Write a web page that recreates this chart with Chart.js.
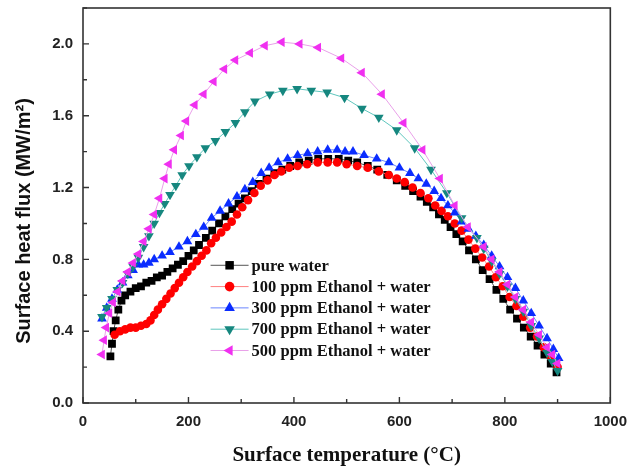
<!DOCTYPE html>
<html>
<head>
<meta charset="utf-8">
<script src="https://cdn.jsdelivr.net/npm/chart.js@4"></script>
<style>
  html, body { margin: 0; padding: 0; background: #fff; }
  #wrap { width: 637px; height: 468px; }
</style>
</head>
<body>
<div id="wrap"><canvas id="fluxChart" width="637" height="468"></canvas></div>
<script>
// series: [surface temperature (C), heat flux (MW/m2)]
const pureWater = [
  [52,0.26],[55,0.33],[58,0.40],[62,0.46],[67,0.52],[73,0.57],[80,0.60],[90,0.62],[100,0.64],[110,0.65],
  [120,0.67],[130,0.68],[140,0.70],[150,0.71],[160,0.73],[170,0.75],[180,0.77],[190,0.79],[200,0.82],[210,0.85],
  [220,0.88],[233,0.92],[245,0.96],[258,1.00],[270,1.04],[283,1.08],[295,1.11],[307,1.14],[320,1.18],[333,1.22],
  [348,1.25],[363,1.28],[378,1.30],[393,1.32],[410,1.34],[428,1.35],[446,1.36],[465,1.36],[485,1.36],[503,1.35],
  [520,1.34],[540,1.32],[558,1.30],[577,1.27],[595,1.24],[611,1.21],[626,1.18],[640,1.15],[652,1.12],[664,1.09],
  [675,1.05],[686,1.02],[697,0.98],[708,0.94],[720,0.90],[732,0.85],[745,0.80],[758,0.74],[771,0.69],[784,0.63],
  [797,0.58],[810,0.52],[823,0.47],[836,0.42],[849,0.37],[862,0.32],[875,0.27],[887,0.22],[898,0.17]
];
const ppm100 = [
  [60,0.38],[70,0.40],[80,0.41],[90,0.42],[100,0.42],[110,0.43],[120,0.44],[128,0.46],[135,0.49],[142,0.52],
  [150,0.55],[158,0.58],[166,0.61],[174,0.64],[182,0.67],[190,0.70],[198,0.73],[207,0.76],[216,0.79],[225,0.82],
  [234,0.85],[243,0.89],[252,0.92],[262,0.95],[272,0.98],[282,1.01],[292,1.05],[302,1.09],[313,1.13],[325,1.17],
  [337,1.21],[350,1.24],[363,1.27],[376,1.29],[391,1.31],[407,1.32],[425,1.33],[445,1.34],[464,1.34],[482,1.34],
  [500,1.33],[520,1.32],[540,1.31],[561,1.29],[580,1.27],[595,1.25],[610,1.23],[625,1.20],[640,1.17],[655,1.14],
  [668,1.10],[680,1.07],[692,1.04],[705,1.00],[718,0.96],[731,0.91],[744,0.86],[757,0.81],[770,0.76],[783,0.70],
  [796,0.65],[809,0.59],[822,0.54],[835,0.48],[848,0.42],[861,0.37],[874,0.31],[887,0.26],[900,0.20]
];
const ppm300 = [
  [36,0.47],[45,0.53],[55,0.58],[65,0.63],[75,0.67],[85,0.71],[95,0.74],[105,0.77],[115,0.77],[125,0.78],
  [135,0.80],[150,0.82],[165,0.84],[182,0.87],[198,0.90],[214,0.94],[229,0.98],[244,1.03],[260,1.07],[276,1.11],
  [292,1.15],[307,1.19],[322,1.23],[338,1.28],[353,1.31],[370,1.34],[388,1.36],[407,1.38],[426,1.39],[445,1.40],
  [464,1.41],[482,1.41],[497,1.40],[512,1.40],[533,1.38],[557,1.36],[580,1.34],[600,1.31],[620,1.28],[636,1.25],
  [651,1.22],[666,1.18],[679,1.14],[692,1.10],[705,1.06],[718,1.01],[731,0.97],[745,0.93],[760,0.88],[775,0.82],
  [790,0.76],[805,0.70],[820,0.64],[835,0.57],[850,0.50],[865,0.43],[880,0.36],[892,0.30],[902,0.25]
];
const ppm700 = [
  [36,0.48],[45,0.53],[55,0.58],[65,0.63],[75,0.67],[85,0.72],[95,0.76],[105,0.81],[115,0.87],[125,0.93],
  [135,1.00],[145,1.06],[155,1.11],[165,1.16],[176,1.21],[188,1.27],[201,1.32],[216,1.37],[232,1.42],[251,1.46],
  [270,1.51],[289,1.56],[307,1.62],[326,1.68],[354,1.72],[379,1.74],[406,1.75],[433,1.74],[463,1.73],[496,1.70],
  [529,1.64],[561,1.59],[595,1.52],[629,1.42],[660,1.30],[690,1.17],[718,1.03],[747,0.92],[760,0.86],[775,0.79],
  [790,0.72],[805,0.65],[820,0.58],[835,0.51],[850,0.43],[865,0.36],[880,0.28],[890,0.23],[900,0.18]
];
const ppm500 = [
  [36,0.27],[40,0.35],[44,0.42],[50,0.50],[57,0.56],[66,0.62],[75,0.68],[85,0.73],[95,0.78],[105,0.83],
  [115,0.90],[125,0.97],[135,1.05],[145,1.14],[155,1.25],[163,1.33],[173,1.41],[186,1.49],[196,1.57],[212,1.66],
  [229,1.72],[248,1.79],[268,1.86],[289,1.91],[317,1.95],[345,1.99],[377,2.01],[411,2.00],[446,1.98],[490,1.92],
  [529,1.84],[567,1.72],[608,1.56],[644,1.41],[677,1.25],[705,1.10],[730,0.98],[760,0.87],[775,0.80],[790,0.73],
  [805,0.66],[820,0.59],[835,0.52],[850,0.45],[865,0.38],[880,0.31],[890,0.27],[900,0.22]
];

const seriesNames = ['pure water', '100 ppm Ethanol + water', '300 ppm Ethanol + water',
                     '700 ppm Ethanol + water', '500 ppm Ethanol + water'];
const xTicks = [0, 200, 400, 600, 800, 1000];
const yTicks = [0.0, 0.4, 0.8, 1.2, 1.6, 2.0];
const xMax = 1000, yMax = 2.2;
const yTitle = 'Surface heat flux (MW/m²)';

const toPoints = arr => arr.map(p => ({ x: p[0], y: p[1] }));

const styles = [
  { data: pureWater, color: '#000000', line: '#555555', point: 'rect', radius: 5.5, rot: 0, order: 4 },
  { data: ppm100, color: '#ff0000', line: '#ff8080', point: 'circle', radius: 4.3, rot: 0, order: 3 },
  { data: ppm300, color: '#0a2cff', line: '#6a86ff', point: 'triangle', radius: 5.6, rot: 0, order: 2 },
  { data: ppm700, color: '#16877f', line: '#5ec6bd', point: 'triangle', radius: 5.6, rot: 180, order: 1 },
  { data: ppm500, color: '#f030f0', line: '#e9a0e9', point: 'triangle', radius: 5.6, rot: -90, order: 0 }
];

const framePlugin = {
  id: 'frame',
  afterDraw(chart) {
    const ctx = chart.ctx;
    const xs = chart.scales.x, ys = chart.scales.y;
    // frame follows the scales' own pixel range
    const L = xs.getPixelForValue(0), R = xs.getPixelForValue(xMax);
    const T = ys.getPixelForValue(yMax), B = ys.getPixelForValue(0);
    ctx.save();
    ctx.strokeStyle = '#333';
    ctx.lineWidth = 1.6;
    ctx.strokeRect(L, T, R - L, B - T);
    // inward ticks, major and minor
    ctx.lineWidth = 1.4;
    ctx.beginPath();
    for (let v = 0; v <= xMax; v += 100) {
      const px = xs.getPixelForValue(v);
      const len = v % 200 === 0 ? 6 : 4;
      ctx.moveTo(px, B); ctx.lineTo(px, B - len);
    }
    for (let i = 0; i <= 11; i++) {
      const py = ys.getPixelForValue(i * 0.2);
      const len = i % 2 === 0 ? 6 : 4;
      ctx.moveTo(L, py); ctx.lineTo(L + len, py);
    }
    ctx.stroke();

    // y title, centred a little below the middle like the original
    ctx.save();
    ctx.translate(24, 221);
    ctx.rotate(-Math.PI / 2);
    ctx.font = 'bold 20px "Liberation Sans", Arial, sans-serif';
    ctx.textAlign = 'center';
    ctx.textBaseline = 'middle';
    ctx.fillStyle = '#111';
    ctx.fillText(yTitle, 0, 0);
    ctx.restore();

    // legend inside the plot, anchored in data units
    const mx = xs.getPixelForValue(278), ly0 = ys.getPixelForValue(0.767), step = 21.3;
    ctx.font = 'bold 16.5px "Liberation Serif", "Times New Roman", serif';
    ctx.textBaseline = 'middle';
    seriesNames.forEach((name, i) => {
      const s = styles[i], y = ly0 + i * step;
      ctx.strokeStyle = s.line;
      ctx.lineWidth = 1;
      ctx.beginPath(); ctx.moveTo(mx - 19, y); ctx.lineTo(mx + 19, y); ctx.stroke();
      ctx.fillStyle = s.color;
      Chart.helpers.drawPoint(ctx, { pointStyle: s.point, rotation: s.rot, radius: s.radius + 0.5, borderWidth: 0 }, mx, y);
      ctx.fillStyle = '#111';
      ctx.fillText(name, mx + 22, y + 1);
    });
    ctx.restore();
  }
};

const ctx = document.getElementById('fluxChart').getContext('2d');
new Chart(ctx, {
  type: 'scatter',
  data: {
    datasets: styles.map((s, i) => ({
      label: seriesNames[i],
      data: toPoints(s.data),
      showLine: true,
      borderColor: s.line,
      borderWidth: 1,
      backgroundColor: s.color,
      pointStyle: s.point,
      pointRotation: s.rot,
      pointRadius: s.radius,
      pointBorderWidth: 0,
      pointBackgroundColor: s.color,
      order: s.order
    }))
  },
  options: {
    responsive: false,
    animation: false,
    layout: { padding: { left: 0, right: 15, top: 8, bottom: 0 } },
    plugins: { legend: { display: false }, tooltip: { enabled: false } },
    scales: {
      x: {
        type: 'linear',
        min: 0, max: xMax,
        afterBuildTicks: s => { s.ticks = xTicks.map(v => ({ value: v })); },
        afterFit: s => { s.height = 65; },
        grid: { display: false, drawTicks: false },
        border: { display: false },
        ticks: {
          padding: 10,
          color: '#222',
          callback: v => String(v),
          font: { family: '"Liberation Sans", Arial, sans-serif', size: 15, weight: 'bold' }
        },
        title: {
          display: true,
          text: 'Surface temperature (°C)',
          color: '#111',
          padding: { top: 8, bottom: 0 },
          font: { family: '"Liberation Serif", "Times New Roman", serif', size: 21, weight: 'bold' }
        }
      },
      y: {
        type: 'linear',
        min: 0, max: yMax,
        afterBuildTicks: s => { s.ticks = yTicks.map(v => ({ value: v })); },
        afterFit: s => { s.width = 83; s.paddingTop = 0; s.paddingBottom = 0; },
        grid: { display: false, drawTicks: false },
        border: { display: false },
        ticks: {
          padding: 10,
          color: '#222',
          callback: v => v.toFixed(1),
          font: { family: '"Liberation Sans", Arial, sans-serif', size: 15, weight: 'bold' }
        },
        title: { display: false }
      }
    }
  },
  plugins: [framePlugin]
});
</script>
</body>
</html>
